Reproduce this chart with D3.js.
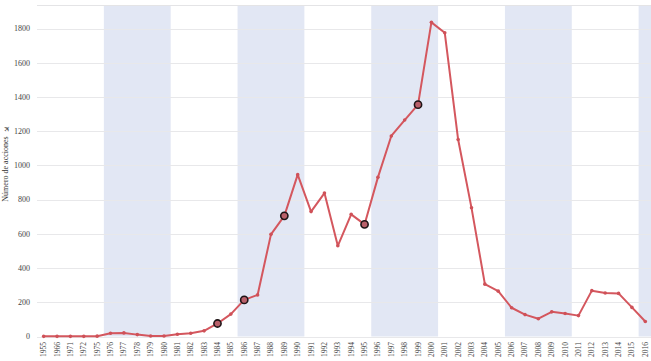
<!DOCTYPE html>
<html>
<head>
<meta charset="utf-8">
<script src="https://cdn.jsdelivr.net/npm/d3@7"></script>
<style>
  body { margin: 0; background: #fff; }
  svg { display: block; font-family: "Liberation Serif", "DejaVu Serif", serif; }
</style>
</head>
<body>
<script>
// years along the x axis
const years = ["1955","1966","1971","1972","1975","1976","1977","1978","1979","1980",
  "1981","1982","1983","1984","1985","1986","1987","1988","1989","1990",
  "1991","1992","1993","1994","1995","1996","1997","1998","1999","2000",
  "2001","2002","2003","2004","2005","2006","2007","2008","2009","2010",
  "2011","2012","2013","2014","2015","2016"];

// number of actions per year
const acciones = [1,1,1,1,2,19,21,11,3,3,
  13,19,33,76,131,214,243,597,705,946,
  730,838,530,714,655,930,1172,1265,1355,1836,
  1775,1151,752,306,265,168,128,104,144,134,
  122,268,254,252,170,88];

// highlighted years
const highlighted = ["1984","1986","1989","1995","1999"];

const yTicks = [0,200,400,600,800,1000,1200,1400,1600,1800];

const width = 651, height = 361;
const margin = { top: 5, right: 0, bottom: 25, left: 37 };
const plotRight = 652;
const plotBottom = 336.5;

const svg = d3.select("body").append("svg")
  .attr("width", width)
  .attr("height", height);

const x = d3.scaleBand()
  .domain(years)
  .range([margin.left, plotRight]);

const y = d3.scaleLinear()
  .domain([0, 1800])
  .range([plotBottom, 28.5]);

// alternating bands: every other group of 5 years
const bandGroups = d3.range(5, years.length, 10).map(i => years.slice(i, i + 5));
svg.append("g").selectAll("rect")
  .data(bandGroups)
  .enter().append("rect")
  .attr("x", d => x(d[0]))
  .attr("width", d => x(d[d.length - 1]) + x.bandwidth() - x(d[0]))
  .attr("y", margin.top)
  .attr("height", plotBottom - margin.top)
  .attr("fill", "#e2e7f4");

// grid lines
svg.append("g").selectAll("line")
  .data(yTicks)
  .enter().append("line")
  .attr("x1", margin.left)
  .attr("x2", plotRight)
  .attr("y1", d => Math.round(y(d)) + 0.5)
  .attr("y2", d => Math.round(y(d)) + 0.5)
  .attr("stroke", "#e8e8ea")
  .attr("stroke-width", 1);

// top border
svg.append("line")
  .attr("x1", margin.left).attr("x2", plotRight)
  .attr("y1", margin.top + 0.5).attr("y2", margin.top + 0.5)
  .attr("stroke", "#e4e4e6");

// y axis labels
svg.append("g").selectAll("text")
  .data(yTicks)
  .enter().append("text")
  .attr("x", 30)
  .attr("y", d => y(d))
  .attr("dy", "0.35em")
  .attr("text-anchor", "end")
  .style("font-size", "8px")
  .style("fill", "#444")
  .text(d => d);

// x axis labels
svg.append("g").selectAll("text")
  .data(years)
  .enter().append("text")
  .attr("transform", d => `translate(${x(d) + x.bandwidth() / 2 + 2.5},342) rotate(-90)`)
  .attr("text-anchor", "end")
  .style("font-size", "7.5px")
  .style("fill", "#444")
  .text(d => d);

// y axis title
svg.append("text")
  .attr("transform", "translate(8,169) rotate(-90)")
  .attr("text-anchor", "middle")
  .style("font-size", "8px")
  .style("fill", "#333")
  .text("Número de acciones");

// small icon above the title
svg.append("text")
  .attr("transform", "translate(9,131) rotate(-45)")
  .attr("text-anchor", "middle")
  .style("font-family", "DejaVu Sans")
  .style("font-size", "8px")
  .style("fill", "#555")
  .text("✈");

const cx = d => x(d) + x.bandwidth() / 2;

const line = d3.line()
  .x((d, i) => cx(years[i]))
  .y(d => y(d));

svg.append("path")
  .datum(acciones)
  .attr("d", line)
  .attr("fill", "none")
  .attr("stroke", "#d4575e")
  .attr("stroke-width", 2)
  .attr("stroke-linejoin", "round");

// small markers
svg.append("g").selectAll("circle")
  .data(acciones)
  .enter().append("circle")
  .attr("cx", (d, i) => cx(years[i]))
  .attr("cy", d => y(d))
  .attr("r", 1.8)
  .attr("fill", "#cf5158");

// highlighted markers
svg.append("g").selectAll("circle")
  .data(highlighted)
  .enter().append("circle")
  .attr("cx", d => cx(d))
  .attr("cy", d => y(acciones[years.indexOf(d)]))
  .attr("r", 3.6)
  .attr("fill", "#b9606a")
  .attr("stroke", "#1e1416")
  .attr("stroke-width", 1.6);
</script>
</body>
</html>
